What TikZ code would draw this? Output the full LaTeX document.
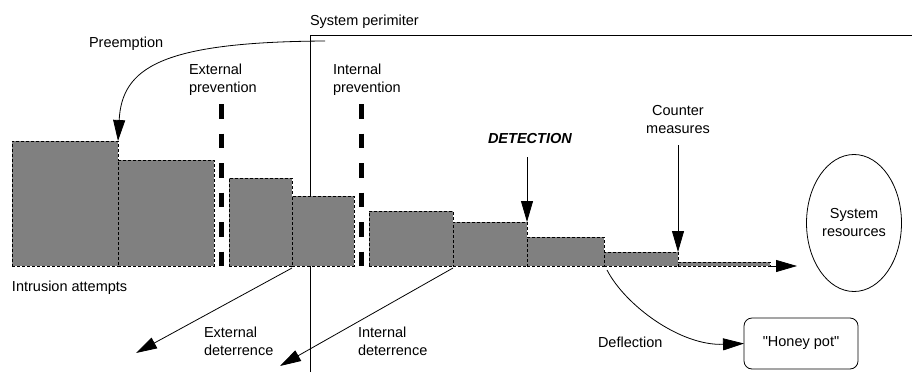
\documentclass[tikz,border=0pt]{standalone}
\usepackage{fontspec}
\setmainfont{Liberation Sans}
\newfontfamily\rawsans{Liberation Sans}[Ligatures=TeXOff]
\usetikzlibrary{arrows.meta,shapes.geometric}
\definecolor{barfill}{RGB}{128,128,128}
\tikzset{
  lbl/.style={font=\fontsize{14.5}{18}\selectfont, inner sep=0pt, outer sep=0pt},
  bar/.style={draw=black, fill=barfill, line width=0.8pt, dash pattern=on 3pt off 2pt, inner sep=0pt, outer sep=0pt, anchor=south west},
  prevline/.style={line width=5pt, dash pattern=on 14.5pt off 15pt},
  arr/.style={line width=0.8pt, -{Triangle[length=21pt,width=12pt]}},
  thin/.style={line width=0.8pt}
}
\begin{document}
\begin{tikzpicture}[x=1pt,y=-1pt]
\useasboundingbox (0,0) rectangle (912,372);
% perimeter
\draw[thin] (310,372) -- (310,35) -- (912,35);
\node[lbl, anchor=west] (perim) at (310,22) {System perimiter};
% prevention lines
\coordinate (extTop) at (221.5,104);
\coordinate (extBot) at (221.5,266);
\coordinate (intTop) at (361.5,104);
\coordinate (intBot) at (361.5,266);
\draw[prevline] (extTop) -- (extBot);
\draw[prevline] (intTop) -- (intBot);
% bars
\node[bar, minimum width=106, minimum height=125] (b1) at (12,266) {};
\node[bar, minimum width=96, minimum height=106] (b2) at (118,266) {};
\node[bar, minimum width=63, minimum height=88] (b3) at (229,266) {};
\node[bar, minimum width=62, minimum height=70] (b4) at (292,266) {};
\node[bar, minimum width=84, minimum height=55] (b5) at (369,266) {};
\node[bar, minimum width=74, minimum height=44] (b6) at (453,266) {};
\node[bar, minimum width=77, minimum height=29] (b7) at (527,266) {};
\node[bar, minimum width=74, minimum height=14] (b8) at (604,266) {};
\node[bar, minimum width=92, minimum height=4] (b9) at (678,266) {};
% labels
\node[lbl, anchor=west] (preempt) at (89,44) {Preemption};
\node[lbl, anchor=west, align=left] (extprev) at (189,80) {External\\prevention};
\node[lbl, anchor=west, align=left] (intprev) at (333,80) {Internal\\prevention};
\node[lbl, anchor=west, font=\fontsize{14.5}{18}\selectfont\bfseries\itshape] (det) at (488,139) {DETECTION};
\node[lbl, align=center] (counter) at (678,120) {Counter\\measures};
\node[lbl, anchor=west] (intr) at (12,288) {Intrusion attempts};
\node[lbl, anchor=west, align=left] (extdet) at (204,341) {External\\deterrence};
\node[lbl, anchor=west, align=left] (intdet) at (358,341) {Internal\\deterrence};
\node[lbl, anchor=west] (defl) at (598,342) {Deflection};
% targets
\node[draw, thin, ellipse, minimum width=95, minimum height=137, inner sep=0pt, lbl, align=center] (res) at (854,223) {System\\resources};
\node[draw, thin, rounded corners=8pt, minimum width=114, minimum height=51, inner sep=0pt, lbl] (honey) at (801,343.5) {{\rawsans "}Honey pot{\rawsans "}};
% arrows
\coordinate (preS) at (325,41);
\draw[arr] (preS) .. controls (160,42) and (122,68) .. (b1.north east);
\coordinate (detS) at (527,157);
\draw[arr] (detS) -- (b6.north east);
\coordinate (cmS) at (678,145);
\draw[arr] (cmS) -- (b8.north east);
\coordinate (mainE) at (797,266);
\draw[arr] (b9.south east) -- (mainE);
\coordinate (extE) at (136,353);
\draw[arr] ([yshift=-2pt]b4.south west) -- (extE);
\coordinate (intE) at (280,366);
\draw[arr] ([yshift=-2pt]b6.south west) -- (intE);
\draw[arr] ([xshift=3pt,yshift=-4pt]b8.south west) .. controls (625,305) and (680,346) .. (honey.west);
\end{tikzpicture}
\end{document}
